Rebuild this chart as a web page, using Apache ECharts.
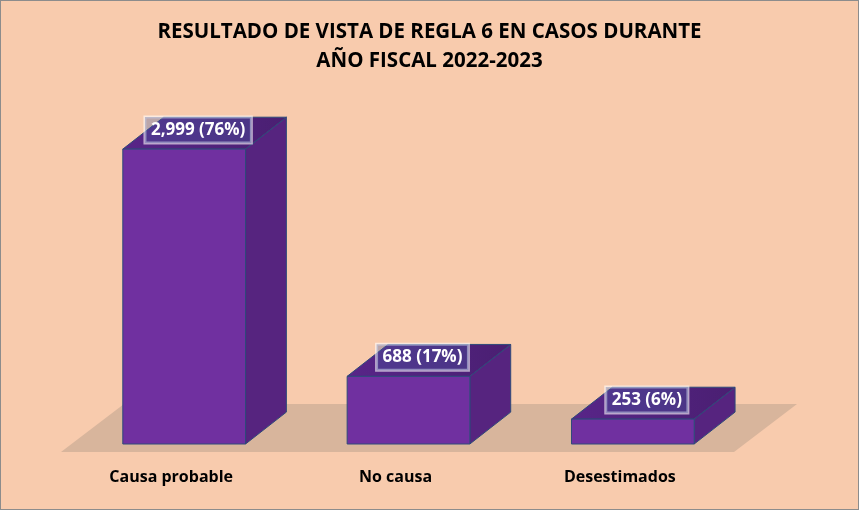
<!DOCTYPE html>
<html>
<head>
<meta charset="utf-8">
<script src="https://cdn.jsdelivr.net/npm/echarts@6/dist/echarts.min.js"></script>
<style>
  html, body { margin: 0; padding: 0; background: #F8CBAD; }
  #chart { width: 859px; height: 510px; box-sizing: border-box; border: 1px solid #8c8c8c; }
</style>
</head>
<body>
<div id="chart"></div>
<script>
// chart data
var categories = ['Causa probable', 'No causa', 'Desestimados'];
var casos = [2999, 688, 253];
var titleLines = ['RESULTADO DE VISTA DE REGLA 6 EN CASOS DURANTE', 'AÑO FISCAL 2022-2023'];

var total = casos.reduce(function (a, b) { return a + b; }, 0);
var FONT = '"Open Sans", Lato, sans-serif';

function fmt(v) {
  return v.toLocaleString('en-US') + ' (' + Math.round(v / total * 100) + '%)';
}

var myChart = echarts.init(document.getElementById('chart'));

// 3d box drawn from the axis coords
function renderBox(params, api) {
  var idx = api.value(0);
  var val = api.value(1);
  var top = api.coord([idx, val]);
  var base = api.coord([idx, 0]);
  var band = api.size([1, 0])[0];
  var w = band * 0.547;
  var dx = w * 0.333;
  var dy = w * 0.26;
  var x0 = top[0] - w / 2, x1 = top[0] + w / 2;
  var edge = { stroke: '#2E4A7A', lineWidth: 1 };
  return {
    type: 'group',
    children: [
      {
        type: 'polygon',
        shape: { points: [[x1, top[1]], [x1 + dx, top[1] - dy], [x1 + dx, base[1] - dy], [x1, base[1]]] },
        style: Object.assign({ fill: '#56247F' }, edge)
      },
      {
        type: 'polygon',
        shape: { points: [[x0, top[1]], [x0 + dx, top[1] - dy], [x1 + dx, top[1] - dy], [x1, top[1]]] },
        style: Object.assign({
          fill: new echarts.graphic.LinearGradient(0, 0, 1, 0, [
            { offset: 0, color: '#582588' },
            { offset: 1, color: '#4A1F72' }
          ])
        }, edge)
      },
      {
        type: 'rect',
        shape: { x: x0, y: top[1], width: w, height: base[1] - top[1] },
        style: Object.assign({ fill: '#7030A0' }, edge)
      },
      {
        type: 'text',
        x: top[0] + 14,
        y: top[1] - 19,
        style: {
          text: fmt(val),
          align: 'center',
          verticalAlign: 'middle',
          fill: '#ffffff',
          font: 'bold 17px ' + FONT,
          backgroundColor: 'rgba(70, 95, 165, 0.34)',
          borderColor: 'rgba(255,255,255,0.6)',
          borderWidth: 1.5,
          padding: [5, 6, 4, 6]
        }
      }
    ]
  };
}

// floor under the bars
function renderFloor(params, api) {
  var cs = params.coordSys;
  var y0 = cs.y + cs.height;
  var l = cs.x, r = cs.x + cs.width;
  return {
    type: 'polygon',
    shape: { points: [[l - 11, y0 + 8], [r - 11, y0 + 8], [r + 52, y0 - 40], [l + 52, y0 - 40]] },
    style: { fill: '#D8B59C' }
  };
}

var option = {
  backgroundColor: '#F8CBAD',
  animation: false,
  title: {
    text: titleLines.join('\n'),
    left: 'center',
    top: 12,
    textStyle: {
      fontFamily: FONT,
      fontWeight: 'bold',
      fontSize: 20.5,
      lineHeight: 29,
      color: '#000'
    }
  },
  grid: { left: 71, right: 113, top: 148, bottom: 65 },
  xAxis: {
    type: 'category',
    data: categories,
    axisLine: { show: false },
    axisTick: { show: false },
    axisLabel: {
      margin: 25,
      padding: [0, 26, 0, 0],
      color: '#000',
      fontWeight: 'bold',
      fontSize: 16,
      fontFamily: FONT
    }
  },
  yAxis: {
    type: 'value',
    min: 0,
    max: 3000,
    show: false,
    splitLine: { show: false }
  },
  series: [
    {
      type: 'custom',
      z: 1,
      silent: true,
      renderItem: renderFloor,
      data: [[0, 0]]
    },
    {
      type: 'custom',
      z: 2,
      renderItem: renderBox,
      encode: { x: 0, y: 1 },
      data: casos.map(function (v, i) { return [i, v]; })
    }
  ]
};

myChart.setOption(option);
</script>
</body>
</html>
